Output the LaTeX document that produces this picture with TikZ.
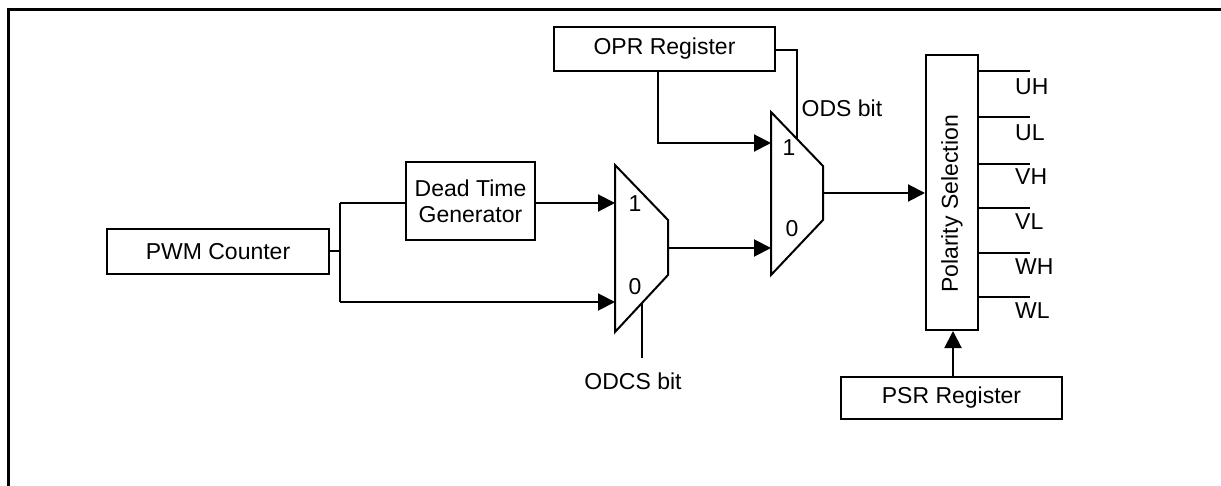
\documentclass[tikz,border=0pt]{standalone}
\usepackage{fontspec}
\setmainfont{Liberation Sans}
\usetikzlibrary{arrows.meta}
\begin{document}
\begin{tikzpicture}[x=1pt,y=-1pt,
  txt/.style={font=\fontsize{23}{26}\selectfont,inner sep=0pt},
  box/.style={draw,line width=2pt,inner sep=0pt,txt},
  wire/.style={line width=2pt},
  arr/.style={wire,-{Triangle[length=17pt,width=17pt]}},
  mux/.style={draw,line width=2pt,line join=miter}]
\useasboundingbox (0,0) rectangle (1221,486);
% frame
\draw[line width=3pt] (8.5,486) -- (8.5,10) -- (1221,10);
% boxes
\node[box,minimum width=222pt,minimum height=45pt] (pwm) at (218,251.5) {PWM Counter};
\node[box,minimum width=129pt,minimum height=78pt,align=center] (dtg) at (470.5,201) {Dead Time\\Generator};
\node[box,minimum width=221pt,minimum height=44pt] (opr) at (664.5,49) {OPR Register};
\node[box,minimum width=52pt,minimum height=275pt] (pol) at (952,192.5) {};
\node[txt,rotate=90] (poltxt) at (952,204) {Polarity Selection};
\node[box,minimum width=221pt,minimum height=42pt] (psr) at (951.5,398) {PSR Register};
% muxes
\draw[mux] (615,165) -- (668,220) -- (668,275) -- (615,332) -- cycle;
\draw[mux] (771,112) -- (823,166) -- (823,220) -- (771,275) -- cycle;
\coordinate (m1a) at (615,203);
\coordinate (m1b) at (615,302);
\coordinate (m1o) at (668,248);
\coordinate (m1s) at (642,303);
\coordinate (m2a) at (771,143);
\coordinate (m2b) at (771,248);
\coordinate (m2o) at (823,193);
\coordinate (m2s) at (797,139);
\node[txt] (m1one) at (635,204) {1};
\node[txt] (m1zero) at (635,287) {0};
\node[txt] (m2one) at (789,148) {1};
\node[txt] (m2zero) at (792,229) {0};
% wiring
\coordinate (j) at (340,251.5);
\draw[wire] (pwm.east) -- (j);
\draw[wire] (j |- m1a) -- (j |- m1b);
\draw[wire] (j |- m1a) -- (dtg.west |- m1a);
\draw[arr] (j |- m1b) -- (m1b);
\draw[arr] (dtg.east |- m1a) -- (m1a);
\draw[arr] (m1o) -- (m2b);
\draw[arr] (opr.south -| 658,0) -- (658,143) -- (m2a);
\draw[wire] (opr.east |- 0,50) -- (797,50) -- (m2s);
\draw[arr] (m2o) -- (pol.west |- m2o);
\draw[arr] (psr.north -| 953,0) -- (pol.south -| 953,0);
\coordinate (odcsend) at (642,358);
\draw[wire] (m1s) -- (odcsend);
\node[txt] (odcs) at (633,381) {ODCS bit};
\node[txt] (ods) at (842,108) {ODS bit};
% outputs
\foreach \y/\t/\ty in {71/UH/87,117/UL/133,164/VH/177,208/VL/222,253/WH/267,297/WL/311}{
  \draw[wire] (pol.east |- 0,\y) -- (1030,\y);
  \node[txt,anchor=west] (o\t) at (1015,\ty) {\t};
}
\end{tikzpicture}
\end{document}
